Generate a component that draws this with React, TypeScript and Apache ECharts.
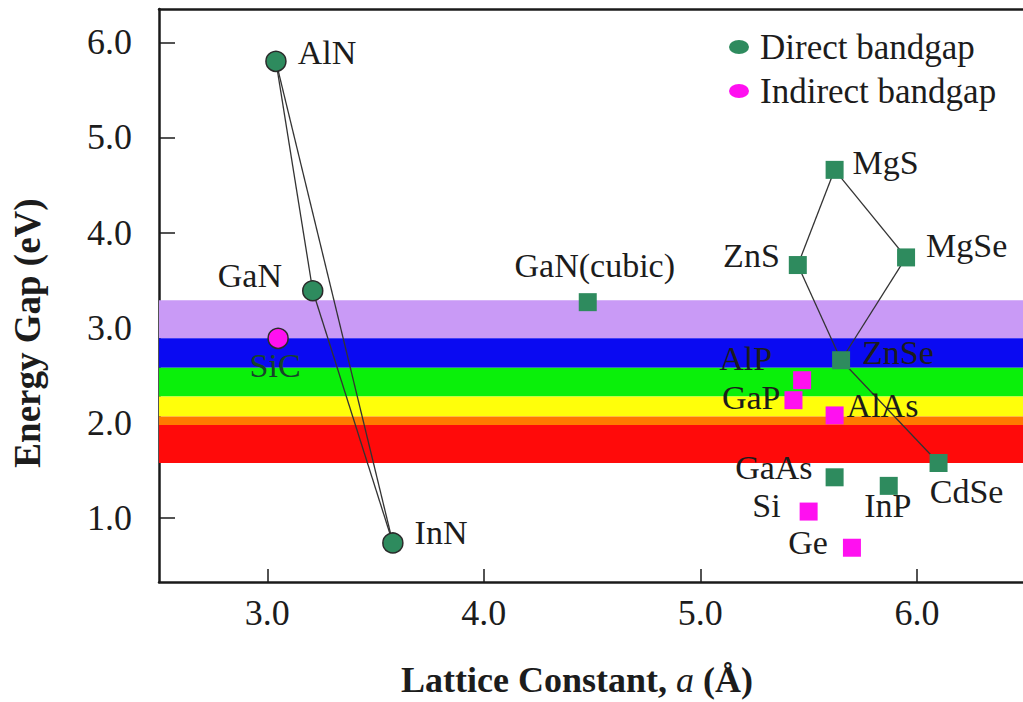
import React, { useEffect, useRef } from "react";
import * as echarts from "echarts";

// ---- data ----
const directCircleNames = ["AlN", "GaN", "InN"];
const directCircleX = [3.04, 3.21, 3.58];
const directCircleY = [5.8, 3.39, 0.74];

const indirectCircleNames = ["SiC"];
const indirectCircleX = [3.05];
const indirectCircleY = [2.89];

const directSquareNames = ["GaN(cubic)", "MgS", "ZnS", "MgSe", "ZnSe", "CdSe", "GaAs", "InP"];
const directSquareX = [4.48, 5.62, 5.45, 5.95, 5.65, 6.1, 5.62, 5.87];
const directSquareY = [3.27, 4.66, 3.66, 3.74, 2.66, 1.58, 1.43, 1.34];

const indirectSquareNames = ["AlP", "GaP", "AlAs", "Si", "Ge"];
const indirectSquareX = [5.47, 5.43, 5.62, 5.5, 5.7];
const indirectSquareY = [2.45, 2.24, 2.08, 1.07, 0.69];

const links = [
  ["AlN", "GaN"],
  ["GaN", "InN"],
  ["AlN", "InN"],
  ["MgS", "ZnS"],
  ["MgS", "MgSe"],
  ["ZnS", "ZnSe"],
  ["MgSe", "ZnSe"],
  ["ZnSe", "CdSe"],
];

const bandLow = [2.89, 2.58, 2.28, 2.07, 1.98, 1.58];
const bandHigh = [3.29, 2.89, 2.58, 2.28, 2.07, 1.98];
const bandColors = ["#C99AF6", "#0A0AF2", "#0AF00A", "#FFFF0A", "#FF7A00", "#FF0A0A"];

const yTicks = [1, 2, 3, 4, 5, 6];
const xTicks = [3, 4, 5, 6];

// ---- styles ----
const FONT = "Liberation Serif";
const TEXT = "#1c1c1c";
const GREEN = "#2E8B5E";
const MAGENTA = "#FF10F0";

const labelPlacement: Record<string, { position: string; offset: number[]; color?: string }> = {
  AlN: { position: "right", offset: [11, -9] },
  GaN: { position: "left", offset: [-20, -15] },
  InN: { position: "right", offset: [11, -10] },
  SiC: { position: "bottom", offset: [-3, 2], color: "#17432a" },
  "GaN(cubic)": { position: "top", offset: [7, -14] },
  MgS: { position: "right", offset: [9, -7] },
  ZnS: { position: "left", offset: [-9, -10] },
  MgSe: { position: "right", offset: [11, -12] },
  ZnSe: { position: "right", offset: [12, -8] },
  CdSe: { position: "bottom", offset: [28, 5] },
  GaAs: { position: "left", offset: [-13, -10] },
  InP: { position: "bottom", offset: [-1, -3] },
  AlP: { position: "left", offset: [-21, -22] },
  GaP: { position: "left", offset: [-4, -3] },
  AlAs: { position: "right", offset: [3, -10] },
  Si: { position: "left", offset: [-19, -6] },
  Ge: { position: "left", offset: [-15, -5] },
};

function makeData(names: string[], xs: number[], ys: number[]) {
  return names.map((n, i) => {
    const p = labelPlacement[n];
    return {
      name: n,
      value: [xs[i], ys[i]],
      label: {
        position: p.position,
        offset: p.offset,
        color: p.color || TEXT,
      },
    };
  });
}

const allNames = [...directCircleNames, ...indirectCircleNames, ...directSquareNames, ...indirectSquareNames];
const allX = [...directCircleX, ...indirectCircleX, ...directSquareX, ...indirectSquareX];
const allY = [...directCircleY, ...indirectCircleY, ...directSquareY, ...indirectSquareY];
function pt(name: string) {
  const i = allNames.indexOf(name);
  return [allX[i], allY[i]];
}

const ellipseIcon = "path://M0,7 A10,7 0 1,1 20,7 A10,7 0 1,1 0,7 Z";

export default function App() {
  const ref = useRef<HTMLDivElement>(null);
  useEffect(() => {
    if (!ref.current) return;
    const chart = echarts.init(ref.current, undefined, { renderer: "svg" });
    const labelBase = {
      show: true,
      formatter: "{b}",
      fontFamily: FONT,
      fontSize: 34,
      lineHeight: 28,
      distance: 0,
    };
    const option: any = {
      animation: false,
      backgroundColor: "#ffffff",
      textStyle: { fontFamily: FONT },
      grid: { left: 159, right: 0, top: 9, bottom: 120, containLabel: false },
      xAxis: [
        {
          type: "value",
          min: 2.5,
          max: 6.49,
          position: "bottom",
          axisLine: { show: true, onZero: false, lineStyle: { color: "#1a1a1a", width: 2.5 } },
          axisTick: { show: true, inside: true, length: 13, customValues: xTicks, lineStyle: { color: "#1a1a1a", width: 1.5 } },
          axisLabel: {
            show: true,
            customValues: xTicks,
            formatter: (v: number) => v.toFixed(1),
            fontFamily: FONT,
            fontSize: 36,
            color: TEXT,
            margin: 13,
          },
          splitLine: { show: false },
        },
        {
          type: "value",
          min: 2.5,
          max: 6.49,
          position: "top",
          axisLine: { show: true, onZero: false, lineStyle: { color: "#1a1a1a", width: 2.5 } },
          axisTick: { show: false },
          axisLabel: { show: false },
          splitLine: { show: false },
        },
      ],
      yAxis: {
        type: "value",
        min: 0.33,
        max: 6.35,
        axisLine: { show: true, onZero: false, lineStyle: { color: "#1a1a1a", width: 2.5 } },
        axisTick: { show: true, inside: true, length: 16, customValues: yTicks, lineStyle: { color: "#1a1a1a", width: 1.5 } },
        axisLabel: {
          show: true,
          customValues: yTicks,
          formatter: (v: number) => v.toFixed(1),
          fontFamily: FONT,
          fontSize: 36,
          color: TEXT,
          margin: 27,
        },
        splitLine: { show: false },
      },
      legend: {
        orient: "vertical",
        left: 724,
        top: 22,
        itemWidth: 20,
        itemHeight: 14,
        itemGap: 4,
        data: [
          { name: "Direct bandgap", icon: ellipseIcon },
          { name: "Indirect bandgap", icon: ellipseIcon },
        ],
        itemStyle: { borderWidth: 0 },
        textStyle: { fontFamily: FONT, fontSize: 35, color: TEXT, lineHeight: 40, padding: [0, 0, 0, 6] },
        selectedMode: false,
      },
      graphic: [
        {
          type: "text",
          x: 577,
          y: 680,
          style: {
            text: "{b|Lattice Constant, }{i|a}{b| (Å)}",
            align: "center",
            verticalAlign: "middle",
            rich: {
              b: { fontFamily: FONT, fontSize: 36, fontWeight: "bold", fill: TEXT },
              i: { fontFamily: FONT, fontSize: 36, fontWeight: "normal", fontStyle: "italic", fill: TEXT },
            },
          },
        },
        {
          type: "text",
          x: 27,
          y: 333,
          rotation: Math.PI / 2,
          style: {
            text: "Energy Gap (eV)",
            align: "center",
            verticalAlign: "middle",
            fontFamily: FONT,
            fontSize: 37,
            fontWeight: "bold",
            fill: TEXT,
          },
        },
      ],
      series: [
        {
          name: "bands",
          type: "line",
          data: [],
          silent: true,
          z: 1,
          markArea: {
            silent: true,
            data: bandLow.map((lo, i) => [
              { yAxis: lo, itemStyle: { color: bandColors[i], opacity: 1 } },
              { yAxis: bandHigh[i] },
            ]),
          },
        },
        {
          name: "links",
          type: "lines",
          coordinateSystem: "cartesian2d",
          z: 3,
          silent: true,
          lineStyle: { color: "#333333", width: 1.3, opacity: 1 },
          data: links.map(([a, b]) => ({ coords: [pt(a), pt(b)] })),
        },
        {
          name: "Direct bandgap",
          type: "scatter",
          z: 5,
          symbol: "circle",
          symbolSize: 20,
          itemStyle: { color: GREEN, borderColor: "#2a2a2a", borderWidth: 1.5, opacity: 1 },
          label: labelBase,
          data: makeData(directCircleNames, directCircleX, directCircleY),
        },
        {
          name: "Direct bandgap",
          type: "scatter",
          z: 5,
          symbol: "rect",
          symbolSize: 18,
          itemStyle: { color: GREEN, opacity: 1 },
          label: labelBase,
          data: makeData(directSquareNames, directSquareX, directSquareY),
        },
        {
          name: "Indirect bandgap",
          type: "scatter",
          z: 5,
          symbol: "circle",
          symbolSize: 20,
          itemStyle: { color: MAGENTA, borderColor: "#2a2a2a", borderWidth: 1.5, opacity: 1 },
          label: labelBase,
          data: makeData(indirectCircleNames, indirectCircleX, indirectCircleY),
        },
        {
          name: "Indirect bandgap",
          type: "scatter",
          z: 5,
          symbol: "rect",
          symbolSize: 18,
          itemStyle: { color: MAGENTA, opacity: 1 },
          label: labelBase,
          data: makeData(indirectSquareNames, indirectSquareX, indirectSquareY),
        },
      ],
    };
    chart.setOption(option);
    return () => chart.dispose();
  }, []);
  return (
    <div
      ref={ref}
      style={{ position: "absolute", left: 0, top: 0, width: 1023, height: 702, background: "#fff" }}
    />
  );
}
